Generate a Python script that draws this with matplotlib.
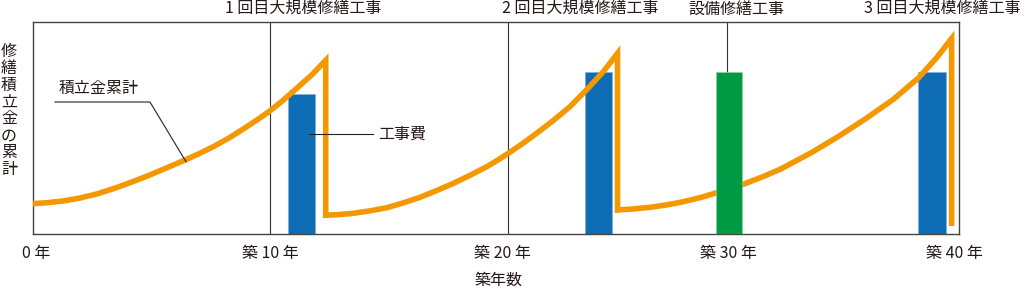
import matplotlib
matplotlib.use("Agg")
import matplotlib.pyplot as plt

plt.rcParams['font.family'] = ['Noto Sans CJK JP', 'DejaVu Sans']

# ---- data (years, accumulated reserve in arbitrary units) ----
curve_years = [0.0, 0.60, 1.29, 2.00, 2.70, 3.40, 4.10, 4.80, 5.50, 6.48, 7.04, 7.60, 8.31,
               9.01, 9.50, 10.0, 10.55, 11.11, 11.74, 12.33,
               12.33, 12.90, 13.49, 14.20, 14.90, 15.60, 16.30, 17.00, 17.70, 18.40, 19.10,
               19.55, 20.01, 20.60, 21.20, 21.90, 22.60, 23.30, 24.00, 24.60,
               24.60, 25.30, 25.97, 26.70, 27.37, 28.10, 28.77, 29.89, 30.70, 31.44, 32.78,
               33.90, 35.08, 36.20, 37.24, 38.00, 38.65, 38.65]
curve_values = [30.6, 31.6, 33.3, 36.3, 40.3, 45.6, 51.6, 58.0, 65.0, 75.0, 81.0, 87.6, 97.0,
                107.6, 115.3, 123.6, 134.3, 146.0, 159.3, 174.0,
                19.0, 19.8, 21.0, 23.5, 26.6, 31.5, 37.0, 43.8, 51.0, 59.0, 67.6,
                74.0, 81.0, 90.6, 101.0, 113.8, 127.6, 144.5, 162.6, 181.0,
                24.3, 25.4, 27.0, 29.5, 32.6, 36.8, 41.6, 50.0, 57.5, 65.0, 82.0,
                98.0, 116.3, 135.0, 156.0, 176.0, 195.8, 8.3]

major_bar_years = [11.32, 23.80, 37.82]
major_bar_costs = [140.0, 162.6, 162.6]
equip_bar_years = [29.30]
equip_bar_costs = [162.6]

event_lines = [10, 20]
tick_positions = [0.16, 10.0, 19.75, 29.25, 38.76]
tick_labels = ["0 年", "築 10 年", "築 20 年", "築 30 年", "築 40 年"]
top_labels = ["1 回目大規模修繕工事", "2 回目大規模修繕工事", "設備修繕工事", "3 回目大規模修繕工事"]
top_label_x = [303, 580, 736, 942.5]   # pixel centres
ylabel_text = "修繕積立金の累計"

ORANGE = "#F39800"
BLUE = "#0F6DB6"
GREEN = "#009944"
TXT = "#231815"

W, H = 1024, 292
fig = plt.figure(figsize=(W / 100, H / 100), dpi=100)
ax = fig.add_axes([32.5 / W, (H - 234.3) / H, (959 - 32.5) / W, (234.3 - 22.3) / H])
ax.set_xlim(0, 38.96)
ax.set_ylim(0, 212)

for s in ax.spines.values():
    s.set_color("#444444")
    s.set_linewidth(1.0)

# bars
ax.bar(major_bar_years, major_bar_costs, width=1.15, color=BLUE,
       edgecolor="#7FB2E0", linewidth=0.5, zorder=2)
ax.bar(equip_bar_years, equip_bar_costs, width=1.10, color=GREEN,
       edgecolor="#8FD0A8", linewidth=0.5, zorder=4)

# event vertical lines
for ev in event_lines:
    ax.axvline(ev, color="#333333", linewidth=0.8, zorder=1)
ax.plot([29.2, 29.2], [equip_bar_costs[0], 212], color="#333333", linewidth=0.8, zorder=1)

# accumulation curve
ax.plot(curve_years, curve_values, color=ORANGE, linewidth=4.0,
        solid_joinstyle="miter", solid_capstyle="butt", zorder=3)

# annotations
ax.plot([0.946, 4.94, 6.455], [132.3, 132.3, 72.6], color="#222222", linewidth=0.8, zorder=5)
ax.text(2.79, 146.0, "積立金累計", fontsize=11.5, color=TXT, ha="center", va="center")
ax.plot([11.63, 14.33], [100.3, 100.3], color="#222222", linewidth=0.8, zorder=5)
ax.text(14.55, 100.3, "工事費", fontsize=11.5, color=TXT, ha="left", va="center")

ax.set_xticks(tick_positions)
ax.set_xticklabels(tick_labels, fontsize=11.5, color=TXT)
ax.set_yticks([])
ax.tick_params(axis="x", length=0, pad=8)

for lbl, px in zip(top_labels, top_label_x):
    fig.text(px / W, 1 - 9.5 / H, lbl, fontsize=11.5, color=TXT, ha="center", va="center")

fig.text(9 / W, 1 - 110.5 / H, "\n".join(ylabel_text), fontsize=11.5, color=TXT,
         ha="center", va="center", linespacing=0.98)
fig.text(498 / W, 1 - 280 / H, "築年数", fontsize=11.5, color=TXT, ha="center", va="center")

fig.savefig("out.png", dpi=100)
